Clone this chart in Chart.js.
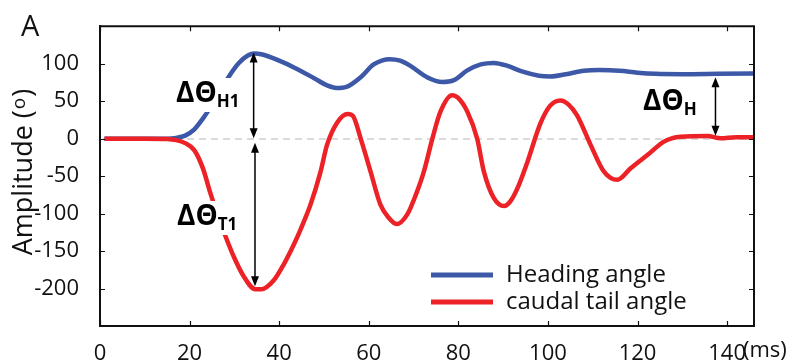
<!DOCTYPE html>
<html>
<head>
<meta charset="utf-8">
<script src="https://cdn.jsdelivr.net/npm/chart.js@4/dist/chart.umd.min.js"></script>
<style>
  html, body { margin: 0; padding: 0; background: #fff; overflow: hidden; }
  canvas { display: block; }
</style>
</head>
<body>
<canvas id="angleChart" width="796" height="364"></canvas>
<script>
// heading angle (blue)
const headingTime = [1, 10, 15, 17, 19, 21, 23, 25, 27, 29, 31, 33, 34.5, 36, 40, 43.3, 47.7, 50.7, 52.8, 55, 58.2, 61.1, 64.7, 67, 69.3, 73, 76.4, 79, 82, 85, 87.9, 91, 94, 98, 100.5, 104, 108, 111.5, 116, 120, 124, 130, 138, 146];
const headingAngle = [0, 0, 0, 1, 4, 12, 27, 45, 65, 85, 101, 111, 113.5, 112.5, 104, 95, 81, 71, 67.5, 69, 82, 99, 106, 104, 97, 82, 75.5, 78, 91, 99, 101, 97, 90, 84, 83, 86, 90.5, 91.5, 90.5, 88, 86.5, 86, 86.5, 87];

// caudal tail angle (red)
const tailTime = [1, 10, 15, 17, 19, 21, 23, 24.5, 26.2, 28, 29.9, 32, 34.7, 36, 38.8, 41, 43.3, 45, 47, 49.2, 50.7, 53, 55.3, 56.5, 58.2, 60.4, 62.6, 64.5, 66.2, 68.6, 70.5, 72.3, 74.2, 76, 78.6, 80, 82, 84.2, 85.7, 87.9, 90.2, 91.8, 93.5, 95.2, 98.3, 100.5, 102.8, 104.5, 106.5, 109.5, 112.5, 115.5, 118.4, 122.2, 125.9, 129.6, 135.6, 138.5, 142, 146];
const tailAngle = [0, 0, -0.5, -2, -6, -15, -40, -70, -101, -130, -158, -183, -201, -201, -189, -168, -141, -118, -88, -45, -8, 22, 33, 30, 0, -44, -88, -106, -114, -101, -75, -44, 0, 36, 58, 54, 36, 0, -44, -79, -90, -82, -62, -35, 20, 44, 51, 46, 31, -8, -44, -55, -40, -22, -4, 2.5, 3.5, 0.5, 2, 2];

const seriesNames = ["Heading angle", "caudal tail angle"];
const yHiddenTicks = [-250, 150];

const BLUE = "#3c58a7";
const RED = "#ec2227";
const FONT = '"Open Sans", "DejaVu Sans", sans-serif';

const toPoints = (xs, ys) => xs.map((x, i) => ({ x: x, y: ys[i] }));

const drawArrow = (ctx, x, yTop, yBot) => {
  const h = 10, w = 4;
  ctx.fillRect(x - 0.75, yTop + h - 1, 1.5, yBot - yTop - 2 * h + 2);
  ctx.beginPath();
  ctx.moveTo(x, yTop);
  ctx.lineTo(x - w, yTop + h);
  ctx.lineTo(x + w, yTop + h);
  ctx.closePath();
  ctx.fill();
  ctx.beginPath();
  ctx.moveTo(x, yBot);
  ctx.lineTo(x - w, yBot - h);
  ctx.lineTo(x + w, yBot - h);
  ctx.closePath();
  ctx.fill();
};

const drawDelta = (ctx, x, base, sub) => {
  ctx.font = "bold 28px " + FONT;
  const w1 = ctx.measureText("ΔΘ").width;
  ctx.font = "bold 17px " + FONT;
  const w2 = ctx.measureText(sub).width;
  ctx.fillStyle = "#fff";
  ctx.fillRect(x - 2, base - 24, w1 + w2 + 4, 34);
  ctx.fillStyle = "#000";
  ctx.font = "bold 28px " + FONT;
  ctx.fillText("ΔΘ", x, base);
  ctx.font = "bold 17px " + FONT;
  ctx.fillText(sub, x + w1, base + 5);
};

const figurePlugin = {
  id: "figure",
  beforeDatasetsDraw(chart) {
    const { ctx, chartArea: a, scales: { y } } = chart;
    const y0 = Math.round(y.getPixelForValue(0));
    ctx.save();
    ctx.fillStyle = "#b5b5b5";
    for (let px = a.left + 3; px < a.right - 2; px += 12) {
      ctx.fillRect(px, y0 - 0.5, Math.min(7, a.right - 2 - px), 1);
    }
    ctx.restore();
  },
  afterDatasetsDraw(chart) {
    const { ctx, scales: { x, y } } = chart;
    ctx.save();
    ctx.textBaseline = "alphabetic";
    ctx.textAlign = "left";
    drawDelta(ctx, 176, 102, "H1");
    drawDelta(ctx, 177, 225, "T1");
    drawDelta(ctx, 643, 110, "H");

    ctx.fillStyle = "#000";
    drawArrow(ctx, x.getPixelForValue(34.3), y.getPixelForValue(115), y.getPixelForValue(0.5));
    drawArrow(ctx, x.getPixelForValue(34.6), y.getPixelForValue(-5.5), y.getPixelForValue(-197));
    drawArrow(ctx, x.getPixelForValue(137.4), y.getPixelForValue(82), y.getPixelForValue(4));
    ctx.restore();
  },
  afterDraw(chart) {
    const { ctx, chartArea: a, scales: { x, y } } = chart;
    ctx.save();

    // axes frame
    ctx.strokeStyle = "#111";
    ctx.lineWidth = 2;
    ctx.beginPath();
    ctx.moveTo(a.left, a.top);
    ctx.lineTo(a.right, a.top);
    ctx.lineTo(a.right, a.bottom);
    ctx.lineTo(a.left, a.bottom);
    ctx.closePath();
    ctx.stroke();

    // inward tick marks on all four sides
    ctx.lineWidth = 1.2;
    ctx.beginPath();
    x.ticks.forEach((t) => {
      const px = Math.round(x.getPixelForValue(t.value)) + 0.5;
      ctx.moveTo(px, a.bottom);
      ctx.lineTo(px, a.bottom - 5);
      ctx.moveTo(px, a.top);
      ctx.lineTo(px, a.top + 5);
    });
    y.ticks.forEach((t) => {
      const py = Math.round(y.getPixelForValue(t.value)) + 0.5;
      ctx.moveTo(a.left, py);
      ctx.lineTo(a.left + 5, py);
      ctx.moveTo(a.right, py);
      ctx.lineTo(a.right - 5, py);
    });
    ctx.stroke();

    ctx.fillStyle = "#111";
    ctx.textBaseline = "alphabetic";
    ctx.textAlign = "left";

    // panel letter
    ctx.font = "29px " + FONT;
    ctx.fillText("A", 21, 36);

    // x unit
    ctx.font = "22px " + FONT;
    ctx.fillText("(ms)", 743, 357);

    // y title with raised o
    ctx.save();
    ctx.translate(32, 172);
    ctx.rotate(-Math.PI / 2);
    ctx.font = "27px " + FONT;
    const p1 = "Amplitude (";
    const w1 = ctx.measureText(p1).width;
    ctx.font = "19px " + FONT;
    const w2 = ctx.measureText("o").width;
    ctx.font = "27px " + FONT;
    const sx = -(w1 + w2 + 2 + ctx.measureText(")").width) / 2;
    ctx.fillText(p1, sx, 0);
    ctx.font = "19px " + FONT;
    ctx.fillText("o", sx + w1 + 1, -7);
    ctx.font = "27px " + FONT;
    ctx.fillText(")", sx + w1 + w2 + 2, 0);
    ctx.restore();

    // legend
    const colors = [BLUE, RED];
    const rows = [275, 302];
    ctx.font = "24px " + FONT;
    seriesNames.forEach((name, i) => {
      ctx.fillStyle = colors[i];
      ctx.fillRect(431, rows[i] - 2.5, 62, 5);
      ctx.fillStyle = "#111";
      ctx.fillText(name, 506, rows[i] + 7);
    });
    ctx.restore();
  }
};

new Chart(document.getElementById("angleChart"), {
  type: "line",
  data: {
    datasets: [
      {
        label: seriesNames[0],
        data: toPoints(headingTime, headingAngle),
        borderColor: BLUE,
        borderWidth: 4.5,
        pointRadius: 0,
        cubicInterpolationMode: "monotone",
        fill: false,
        order: 1,
      },
      {
        label: seriesNames[1],
        data: toPoints(tailTime, tailAngle),
        borderColor: RED,
        borderWidth: 4.5,
        pointRadius: 0,
        cubicInterpolationMode: "monotone",
        fill: false,
        order: 0,
      },
    ],
  },
  options: {
    responsive: false,
    animation: false,
    devicePixelRatio: 1,
    layout: { padding: { left: 0, top: 24, right: 42, bottom: 0 } },
    plugins: { legend: { display: false }, tooltip: { enabled: false } },
    scales: {
      x: {
        type: "linear",
        min: 0,
        max: 146,
        grid: { display: false },
        border: { display: true, color: "#111", width: 2 },
        ticks: { stepSize: 20, includeBounds: false, color: "#111", padding: 7, font: { family: FONT, size: 22 } },
        afterFit: (s) => { s.height = 38; },
      },
      y: {
        min: -250,
        max: 150,
        grid: { display: false },
        border: { display: true, color: "#111", width: 2 },
        ticks: {
          stepSize: 50,
          color: "#111",
          padding: 13,
          font: { family: FONT, size: 22 },
          callback: (v) => (yHiddenTicks.includes(v) ? "" : v),
        },
        afterFit: (s) => { s.width = 100; },
      },
    },
  },
  plugins: [figurePlugin],
});
</script>
</body>
</html>
